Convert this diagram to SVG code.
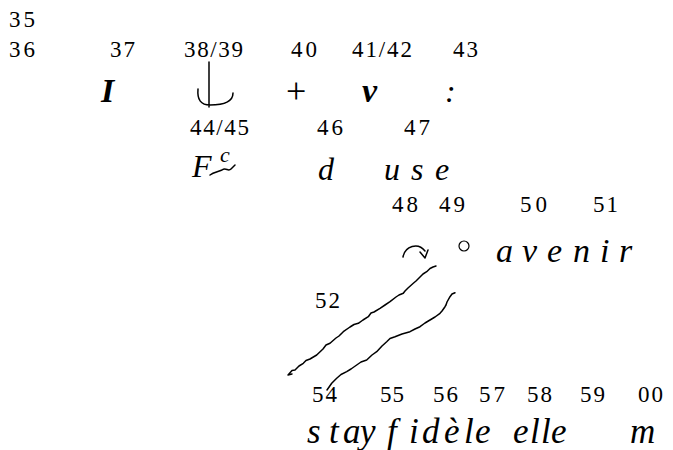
<svg xmlns="http://www.w3.org/2000/svg" width="673" height="450" viewBox="0 0 673 450">
<style>
.n{font-family:"Liberation Serif","Times New Roman",serif;font-size:23px;fill:#000}
.t{font-family:"Liberation Serif","Times New Roman",serif;font-style:italic;font-size:32px;fill:#000}
.b{font-family:"Liberation Serif","Times New Roman",serif;font-style:italic;font-weight:bold;font-size:34px;fill:#000}
.r{font-family:"Liberation Serif","Times New Roman",serif;font-size:36px;fill:#000}
.s{fill:none;stroke:#000;stroke-width:1.5;stroke-linecap:round;stroke-linejoin:round}
</style>
<rect width="673" height="450" fill="#fff"/>
<g id="numbers">
<text class="n" x="9" y="27" textLength="26" lengthAdjust="spacing">35</text>
<text class="n" x="9" y="57" textLength="26" lengthAdjust="spacing">36</text>
<text class="n" x="110" y="57" textLength="25" lengthAdjust="spacing">37</text>
<text class="n" x="184" y="57" textLength="59" lengthAdjust="spacing">38/39</text>
<text class="n" x="291" y="57" textLength="26" lengthAdjust="spacing">40</text>
<text class="n" x="352" y="57" textLength="60" lengthAdjust="spacing">41/42</text>
<text class="n" x="453" y="57" textLength="25" lengthAdjust="spacing">43</text>
<text class="n" x="190" y="135" textLength="59" lengthAdjust="spacing">44/45</text>
<text class="n" x="317" y="135" textLength="26" lengthAdjust="spacing">46</text>
<text class="n" x="404" y="135" textLength="26" lengthAdjust="spacing">47</text>
<text class="n" x="392" y="212" textLength="26" lengthAdjust="spacing">48</text>
<text class="n" x="439" y="212" textLength="26" lengthAdjust="spacing">49</text>
<text class="n" x="520" y="212" textLength="27" lengthAdjust="spacing">50</text>
<text class="n" x="593" y="212" textLength="25" lengthAdjust="spacing">51</text>
<text class="n" x="315" y="308" textLength="25" lengthAdjust="spacing">52</text>
<text class="n" x="312" y="402" textLength="25" lengthAdjust="spacing">54</text>
<text class="n" x="380" y="402" textLength="24" lengthAdjust="spacing">55</text>
<text class="n" x="433" y="402" textLength="25" lengthAdjust="spacing">56</text>
<text class="n" x="479" y="402" textLength="26" lengthAdjust="spacing">57</text>
<text class="n" x="527" y="402" textLength="25" lengthAdjust="spacing">58</text>
<text class="n" x="580" y="402" textLength="25" lengthAdjust="spacing">59</text>
<text class="n" x="638" y="402" textLength="25" lengthAdjust="spacing">00</text>
</g>
<g id="row1">
<text class="b" x="101" y="102">I</text>
<path class="s" d="M209,62 V107 M198,89 C197,100 201,105 210,105 C222,105 233,103 233,93"/>
<text class="r" x="286" y="103">+</text>
<text class="b" x="362" y="102">v</text>
<text class="t" x="445" y="102">:</text>
</g>
<g id="row2">
<text class="t" x="192" y="177">F</text>
<text class="t" x="220" y="162" style="font-size:22px">c</text>
<path class="s" d="M210,175 C214,172 218,172 222,170 C226,167 228,172 231,169 L235,165"/>
<text class="t" x="318" y="180">d</text>
<text class="t" x="384 411 435" y="180">use</text>
</g>
<g id="row3">
<path class="s" d="M403,257 C405,246 418,242 425,251 M420,252 L425,258 L428,250"/>
<circle cx="464" cy="246" r="5" fill="none" stroke="#000" stroke-width="1.2"/>
<text class="t" x="496 522 547 573 600 619" y="262" style="font-size:34px">avenir</text>
</g>
<g id="strokes">
<path class="s" d="M436,266 L433,267 L430,268.5 L426.7,271.7 L423,274 L420,277 L416,281 L413.3,283.3 L408,288 L405,291 L403.3,293.3 L399,295 L396,297 L390,301.7 L385,305 L380,308.3 L374,312 L371,313 L368.3,316.7 L363,320 L358.3,323.3 L354,324.5 L350,327 L343.3,331.7 L339,336 L336,338 L330,343.3 L326,345 L323,349 L316.7,355 L310,359 L306,360.5 L303.3,363.3 L299,366 L295,370 L292,370.5 L288,375 L292,374"/>
<path class="s" d="M455,292.7 L452,294 L450,296.7 L447,302 L446,305 L445,306.7 L442,311 L440,313.3 L435,317 L430,320 L425,323 L420,326.7 L415,329 L410,331.7 L402,334 L395,336.7 L390,338.5 L386.7,341.7 L382,346 L376.7,351.7 L372,355 L366.7,360 L361,362 L356.7,365 L351,369 L346.7,371.7 L341,374.5 L336.7,378.3 L331.7,383.3 L327,390"/>
</g>
<g id="row4">
<text class="t" x="307 329 343 360" y="443" style="font-size:35px">stay</text>
<text class="t" x="387 409 422 444 464 475" y="443" style="font-size:35px">fidèle</text>
<text class="t" x="513 530 541 551 630" y="443" style="font-size:35px">ellem</text>
</g>
</svg>
